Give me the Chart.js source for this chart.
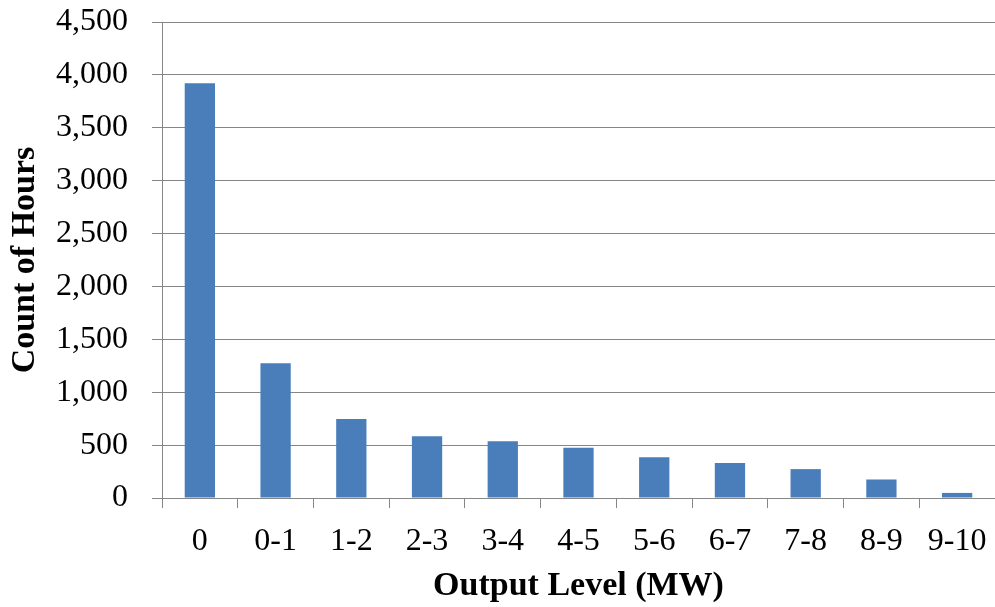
<!DOCTYPE html>
<html>
<head>
<meta charset="utf-8">
<script src="https://cdn.jsdelivr.net/npm/chart.js@4.4.1/dist/chart.umd.min.js"></script>
<style>
  html, body { margin: 0; padding: 0; background: #fff; }
  #wrap { width: 995px; height: 607px; }
</style>
</head>
<body>
<div id="wrap"><canvas id="chart"></canvas></div>
<script>
const outputLevels = ['0', '0-1', '1-2', '2-3', '3-4', '4-5', '5-6', '6-7', '7-8', '8-9', '9-10'];
const hourCounts = [3920, 1275, 748, 583, 536, 474, 386, 331, 273, 175, 48];
const yTicks = [0, 500, 1000, 1500, 2000, 2500, 3000, 3500, 4000, 4500];

const barColor = '#4a7ebb';
const lineColor = '#868686';
const serif = '"Liberation Serif", "Times New Roman", serif';

const ctx = document.getElementById('chart').getContext('2d');

new Chart(ctx, {
    type: 'bar',
    data: {
        labels: outputLevels,
        datasets: [
            {
                label: 'Count of Hours',
                data: hourCounts,
                backgroundColor: barColor,
                borderWidth: 0,
                barPercentage: 0.4,
                categoryPercentage: 1
            }
        ]
    },
    options: {
        responsive: true,
        maintainAspectRatio: false,
        animation: false,
        layout: {
            padding: { top: 22, right: 0, bottom: 0, left: 0 }
        },
        plugins: {
            legend: { display: false },
            tooltip: { enabled: false }
        },
        scales: {
            x: {
                grid: {
                    offset: true,
                    drawOnChartArea: false,
                    tickLength: 10,
                    color: lineColor
                },
                border: { color: lineColor },
                ticks: {
                    color: '#000',
                    padding: 14,
                    maxRotation: 0,
                    font: { family: serif, size: 32 }
                },
                title: {
                    display: true,
                    text: 'Output Level (MW)',
                    color: '#000',
                    padding: { top: 0, bottom: 0 },
                    font: { family: serif, size: 34, weight: 'bold' }
                },
                afterFit: (scale) => {
                    scale.height = 109;
                    scale.paddingRight = 0;
                }
            },
            y: {
                min: 0,
                max: 4500,
                afterBuildTicks: (scale) => {
                    scale.ticks = yTicks.map(v => ({ value: v }));
                },
                grid: {
                    color: lineColor,
                    tickLength: 10
                },
                border: { color: lineColor },
                ticks: {
                    color: '#000',
                    padding: 24,
                    font: { family: serif, size: 32 },
                    callback: (v) => v.toLocaleString('en-US')
                },
                title: {
                    display: true,
                    text: 'Count of Hours',
                    color: '#000',
                    padding: { top: 5, bottom: 0 },
                    font: { family: serif, size: 34, weight: 'bold' }
                },
                afterFit: (scale) => {
                    scale.width = 162;
                    scale.paddingTop = 0;
                    scale.paddingBottom = 0;
                }
            }
        }
    }
});
</script>
</body>
</html>
